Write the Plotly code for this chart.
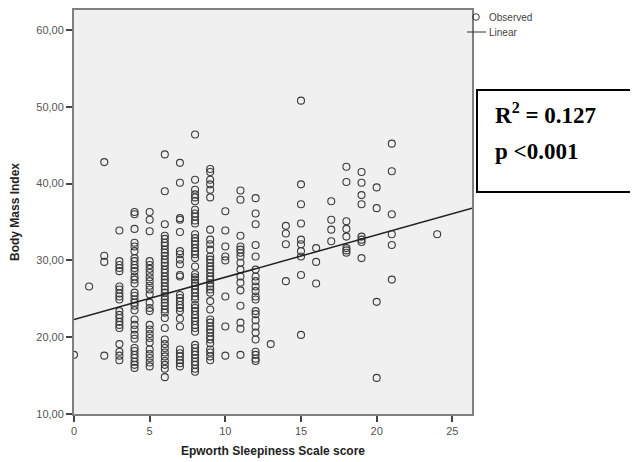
import plotly.graph_objects as go

# ---- data ----
ess_scores = [0, 1, 2, 3, 4, 5, 6, 7, 8, 9, 10, 11, 12, 13, 14, 15, 16, 17, 18, 19, 20, 21, 24]

bmi_by_score = [
    [17.7],
    [26.6],
    [42.8, 30.6, 29.8, 17.6],
    [33.9, 29.9, 29.4, 29.0, 28.6, 26.6, 26.2, 25.7, 25.3, 24.9, 23.4, 22.9, 22.5, 22.0, 21.6, 21.2, 19.1, 18.1, 17.6, 17.0],
    [36.3, 36.0, 34.1, 32.3, 31.8, 31.2, 30.3, 29.9, 29.4, 29.0, 28.6, 27.9, 27.5, 27.0, 25.8, 25.4, 24.9, 24.5, 24.1, 23.5,
     22.3, 21.6, 21.0, 20.3, 19.8, 18.6, 18.2, 17.7, 17.3, 16.8, 16.4, 16.0],
    [36.3, 35.3, 33.8, 29.9, 29.4, 28.9, 28.4, 27.8, 27.3, 26.7, 26.2, 25.6, 24.5, 23.8, 23.4, 21.6, 21.0, 20.4, 19.9, 19.3,
     18.4, 17.8, 17.3, 16.7, 16.2],
    [43.8, 39.0, 34.7, 33.2, 32.8, 32.3, 31.9, 31.4, 31.0, 30.6, 30.1, 29.7, 29.3, 28.8, 28.4, 27.9, 27.5, 27.1, 26.6, 26.2,
     25.8, 25.3, 24.9, 24.5, 24.1, 23.6, 23.2, 22.5, 21.2, 19.7, 19.1, 18.6, 18.0, 17.5, 16.9, 16.4, 15.9, 14.8],
    [42.7, 40.1, 35.5, 35.3, 33.7, 31.2, 30.8, 30.1, 29.5, 28.1, 27.9, 25.5, 25.1, 24.7, 24.2, 23.8, 23.4, 22.4, 21.4, 18.4,
     17.9, 17.5, 17.0, 16.6, 16.2],
    [46.4, 40.5, 39.2, 38.6, 38.2, 37.7, 36.6, 36.1, 35.7, 35.2, 34.8, 33.4, 32.9, 32.5, 32.1, 31.6, 31.2, 30.8, 30.3, 29.2,
     28.2, 27.8, 27.5, 27.1, 26.7, 26.2, 25.8, 25.3, 24.9, 24.2, 23.8, 23.4, 22.9, 22.5, 22.1, 21.6, 21.2, 20.7, 19.0, 18.6,
     18.1, 17.7, 17.3, 16.8, 16.4, 15.9, 15.5],
    [41.9, 41.5, 40.5, 39.9, 39.2, 38.2, 34.0, 32.7, 32.1, 31.4, 30.5, 30.1, 29.7, 29.2, 28.8, 28.4, 27.9, 27.5, 27.0, 26.6,
     26.2, 25.8, 24.7, 23.6, 22.3, 21.9, 21.4, 21.0, 20.6, 20.1, 19.7, 19.2, 18.4, 18.0, 17.5, 17.0],
    [36.4, 33.9, 31.8, 30.5, 30.0, 25.3, 21.4, 17.6],
    [39.1, 37.9, 33.2, 31.8, 31.4, 31.0, 30.5, 29.7, 28.8, 27.9, 27.1, 26.1, 24.1, 21.9, 21.1, 17.7],
    [38.1, 36.1, 34.7, 32.0, 30.5, 28.8, 27.9, 27.3, 26.6, 26.0, 25.3, 24.9, 23.4, 23.0, 22.2, 21.4, 20.6, 19.7, 18.1, 17.7,
     17.2, 16.9],
    [19.1],
    [34.5, 33.5, 32.1, 27.3],
    [50.8, 39.9, 37.3, 34.8, 32.7, 32.1, 31.2, 30.5, 28.1, 20.3],
    [31.6, 29.8, 27.0],
    [37.7, 35.3, 34.0, 32.5],
    [42.2, 40.2, 35.1, 34.1, 33.1, 31.6, 31.3, 31.0],
    [41.5, 40.1, 38.5, 37.3, 33.1, 32.7, 32.4, 30.3],
    [39.5, 36.8, 24.6, 14.7],
    [45.2, 41.6, 36.0, 33.4, 32.0, 27.5],
    [33.4],
]

# linear fit line (as drawn in the reference)
fit_x = [0.0, 26.3]
fit_y = [22.3, 36.8]

y_tick_vals = [10, 20, 30, 40, 50, 60]
y_tick_text = ["10,00", "20,00", "30,00", "40,00", "50,00", "60,00"]
x_tick_vals = [0, 5, 10, 15, 20, 25]
x_tick_text = ["0", "5", "10", "15", "20", "25"]

x_title = "Epworth Sleepiness Scale score"
y_title = "Body Mass Index"
stats_lines = ["R<sup>2</sup> = 0.127", "p <0.001"]

# ---- build points ----
xs, ys = [], []
for s, col in zip(ess_scores, bmi_by_score):
    for v in col:
        xs.append(s)
        ys.append(v)

fig = go.Figure()
fig.add_trace(go.Scatter(
    x=xs, y=ys, mode="markers", name="Observed",
    marker=dict(symbol="circle-open", size=7, color="#3c3c3c", line=dict(width=1.1)),
    cliponaxis=True,
))
fig.add_trace(go.Scatter(
    x=fit_x, y=fit_y, mode="lines", name="Linear",
    line=dict(color="#222222", width=1.5),
))

# page offset (default body margin of the html page)
OFF = 8
W, H = 638 - OFF, 462 - OFF
# plot area in page pixels
L, R, T, B = 74, 472, 10, 414
def px(x):
    return (x - L) / (R - L)
def py(y):
    return (B - y) / (B - T)

axis_font = dict(family="Liberation Sans, Arial", size=11, color="#555555")
title_font = dict(family="Liberation Sans, Arial", size=12, color="#222222")

fig.update_layout(
    width=W, height=H,
    margin=dict(l=L - OFF, r=(638 - R), t=T - OFF, b=(462 - B), autoexpand=False),
    paper_bgcolor="white",
    plot_bgcolor="#f0f0f0",
    showlegend=False,
    xaxis=dict(
        range=[0, 26.3], tickvals=x_tick_vals, ticktext=x_tick_text,
        ticks="outside", ticklen=6, tickwidth=1.5, tickcolor="#444444",
        showline=True, linecolor="#808080", linewidth=2, mirror=True,
        showgrid=False, zeroline=False, tickfont=axis_font, automargin=False,
        title=dict(text="<b>" + x_title + "</b>", font=title_font, standoff=10),
    ),
    yaxis=dict(
        range=[10, 62.6], tickvals=y_tick_vals, ticktext=y_tick_text,
        ticks="outside", ticklen=6, tickwidth=1.5, tickcolor="#444444",
        showline=True, linecolor="#808080", linewidth=2, mirror=True,
        showgrid=False, zeroline=False, tickfont=axis_font, automargin=False,
        title=dict(text="<b>" + y_title + "</b>", font=title_font, standoff=14),
    ),
)

# custom legend
fig.add_shape(type="circle", xref="paper", yref="paper",
              xsizemode="pixel", ysizemode="pixel",
              xanchor=px(476), yanchor=py(17),
              x0=-3.3, x1=3.3, y0=-3.3, y1=3.3,
              line=dict(color="#333333", width=1))
fig.add_shape(type="line", xref="paper", yref="paper",
              x0=px(467), x1=px(486), y0=py(32), y1=py(32),
              line=dict(color="#333333", width=1))
leg_font = dict(family="Liberation Sans, Arial", size=10, color="#444444")
fig.add_annotation(text="Observed", xref="paper", yref="paper", x=px(487), y=py(17),
                   xanchor="left", yanchor="middle", showarrow=False, font=leg_font)
fig.add_annotation(text="Linear", xref="paper", yref="paper", x=px(487), y=py(32),
                   xanchor="left", yanchor="middle", showarrow=False, font=leg_font)

# stats box
fig.add_shape(type="rect", xref="paper", yref="paper",
              x0=px(477), x1=px(636), y0=py(192), y1=py(90),
              line=dict(color="black", width=2), fillcolor="white")
stat_font = dict(family="Liberation Serif, Times New Roman", size=23, color="black")
for txt, yy in zip(stats_lines, [113, 151]):
    fig.add_annotation(text="<b>" + txt + "</b>", xref="paper", yref="paper",
                       x=px(493), y=py(yy), xanchor="left", yanchor="middle",
                       showarrow=False, font=stat_font)

fig.write_html("out.html")
